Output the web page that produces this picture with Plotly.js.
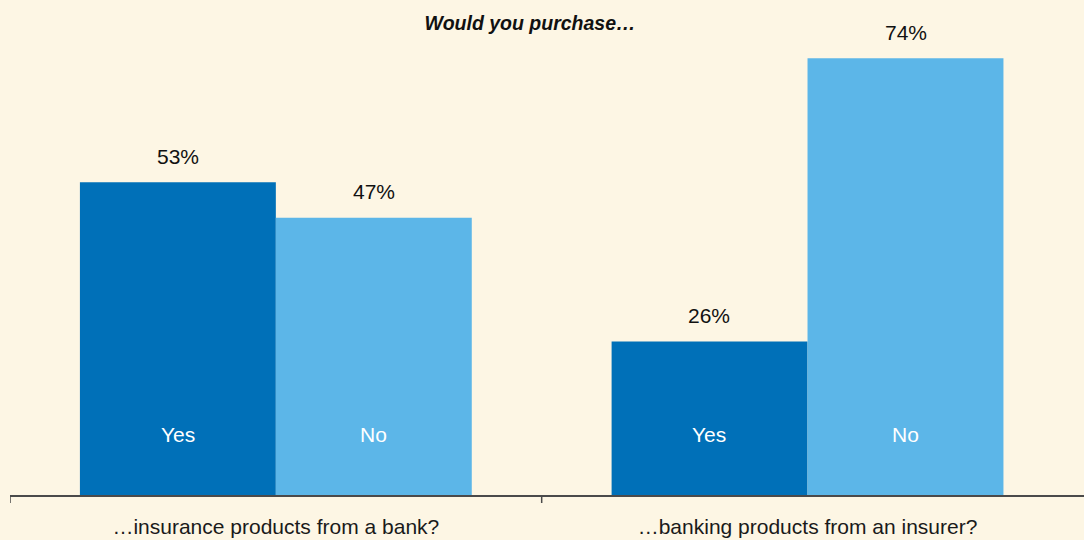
<!DOCTYPE html>
<html>
<head>
<meta charset="utf-8">
<script src="https://cdn.plot.ly/plotly-3.0.1.min.js"></script>
<style>html,body{margin:0;padding:0;background:#FDF6E4;}#chart{width:1084px;height:540px;}</style>
</head>
<body>
<div id="chart"></div>
<script>
const categories = ["…insurance products from a bank?", "…banking products from an insurer?"];
const seriesNames = ["Yes", "No"];
const yesValues = [53, 26];
const noValues = [47, 74];
const chartTitle = "Would you purchase…";

const FONT = "Liberation Sans, Arial, sans-serif";
const colors = {Yes: "#0070B8", No: "#5CB6E8"};
const series = [yesValues, noValues];

const traces = seriesNames.map((name, i) => ({
  type: "bar",
  name: name,
  x: categories,
  y: series[i],
  marker: {color: colors[name], line: {width: 0}},
  hoverinfo: "skip"
}));

const annotations = [];
seriesNames.forEach((name, i) => {
  categories.forEach((c, j) => {
    const off = (i === 0 ? -1 : 1) * 0.1845;
    annotations.push({
      x: j + off, y: series[i][j], xref: "x", yref: "y",
      text: series[i][j] + "%", showarrow: false, yshift: 26,
      font: {family: FONT, size: 21, color: "#111111"}
    });
    annotations.push({
      x: j + off, y: 0, xref: "x", yref: "y",
      text: name, showarrow: false, yshift: 61,
      font: {family: FONT, size: 21, color: "#ffffff"}
    });
  });
});

const tickShapes = [-0.5, 0.5].map(v => ({
  type: "line", xref: "x", yref: "paper", x0: v, x1: v,
  ysizemode: "pixel", yanchor: 0, y0: 0, y1: -8,
  line: {color: "#4a4a4a", width: 1.5}
}));

const layout = {
  width: 1084, height: 540,
  paper_bgcolor: "#FDF6E4", plot_bgcolor: "#FDF6E4",
  margin: {l: 10, r: 0, t: 30, b: 45},
  showlegend: false,
  barmode: "group", bargap: 0.263, bargroupgap: 0,
  title: {text: "<b><i>" + chartTitle + "</i></b>", x: 0.489, xref: "container", xanchor: "center",
          y: 0.958, yref: "container", yanchor: "middle",
          font: {family: FONT, size: 19.5, color: "#111111"}},
  xaxis: {type: "category", range: [-0.5, 1.52], showline: true, linecolor: "#4a4a4a", linewidth: 1.5,
          ticks: "", showgrid: false, zeroline: false, fixedrange: true,
          tickfont: {family: FONT, size: 21, color: "#1a1a1a"}, ticklabelstandoff: 12},
  yaxis: {range: [0, 78.8], visible: false, showgrid: false, zeroline: false},
  annotations: annotations,
  shapes: tickShapes
};

Plotly.newPlot("chart", traces, layout, {displayModeBar: false, staticPlot: true});
</script>
</body>
</html>
